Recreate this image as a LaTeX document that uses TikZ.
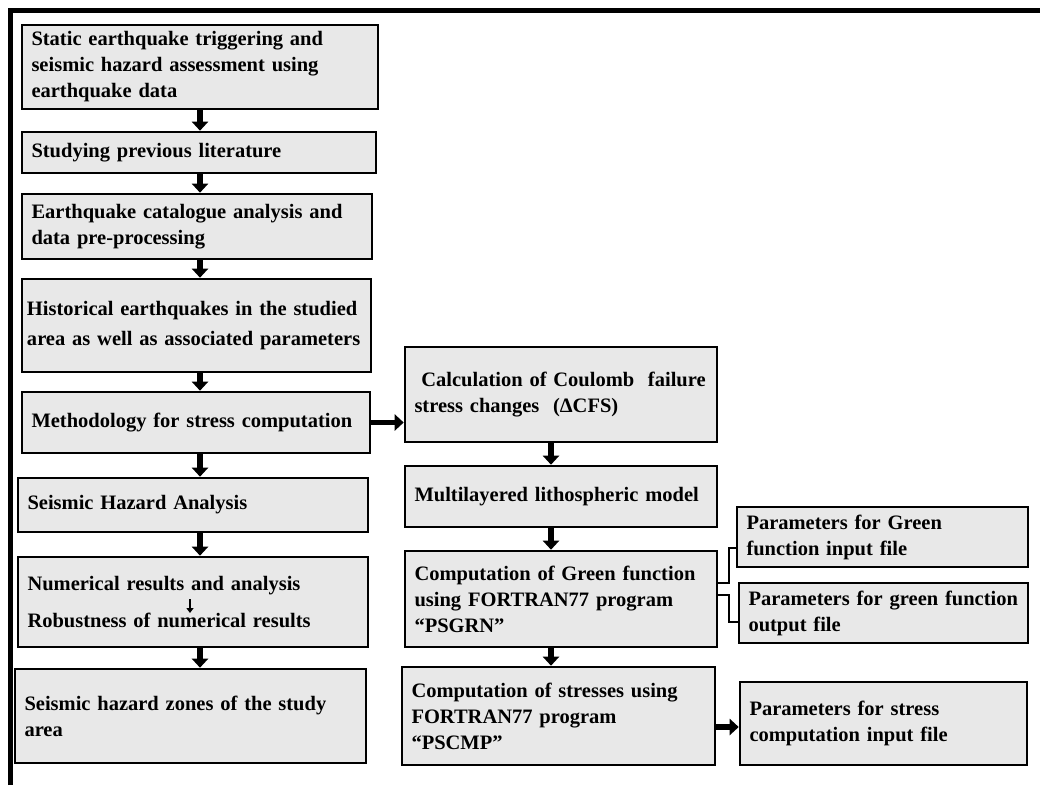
\documentclass[tikz,border=0pt]{standalone}
\usepackage{fontspec}
\setmainfont{Liberation Serif}
\usetikzlibrary{arrows.meta}
\definecolor{boxgray}{RGB}{232,232,232}

\begin{document}
\begin{tikzpicture}[x=1pt,y=-1pt,
  stepbox/.style={draw, line width=2.6pt, fill=boxgray, inner xsep=9.5pt, inner ysep=0pt,
    align=left, font=\fontsize{20.5}{26}\selectfont\bfseries},
  flowarrow/.style={line width=5.5pt, -{Triangle[length=9pt,width=16pt]}},
  linkline/.style={line width=2.2pt}]

\useasboundingbox (0,0) rectangle (1040,785);
\draw [line width=5pt](10,785) -- (10,10) -- (1040,10);

\coordinate (laxis) at (200,0);
\coordinate (raxis) at (551,0);

% left column
\node [stepbox, minimum width=356, minimum height=84, text width=337pt] (trig) at (200,67)
  {Static earthquake triggering and\\seismic hazard assessment using\\earthquake data};
\node [stepbox, minimum width=354, minimum height=41, text width=335pt] (lit) at (199,152.5)
  {Studying previous literature};
\node [stepbox, minimum width=350, minimum height=65, text width=331pt] (cat) at (197,226.5)
  {Earthquake catalogue analysis and\\data pre-processing};
\node [stepbox, minimum width=349, minimum height=93, inner xsep=5pt, text width=339pt,
  font=\fontsize{20.5}{30}\selectfont\bfseries] (hist) at (196.5,325.5)
  {Historical earthquakes in the studied\\area as well as associated parameters};
\node [stepbox, minimum width=348, minimum height=61, text width=329pt] (meth) at (196,422.5)
  {Methodology for stress computation};
\node [stepbox, minimum width=350, minimum height=54, text width=331pt] (sha) at (193,505)
  {Seismic Hazard Analysis};
\node [stepbox, minimum width=350, minimum height=90, text width=331pt] (num) at (193,602)
  {Numerical results and analysis\\[11pt]Robustness of numerical results};
\node [stepbox, minimum width=351, minimum height=94, text width=332pt] (zones) at (190.5,716)
  {Seismic hazard zones of the study\\area};

% right column
\node [stepbox, minimum width=312, minimum height=95, text width=293pt] (cfs) at (561,394.5)
  {\ Calculation of Coulomb\ \ failure\\stress changes\ \ (ΔCFS)};
\node [stepbox, minimum width=312, minimum height=61, text width=293pt] (litho) at (561,496.5)
  {Multilayered lithospheric model};
\node [stepbox, minimum width=312, minimum height=96, text width=293pt] (grn) at (561,599)
  {Computation of Green function\\using FORTRAN77 program\\“PSGRN”};
\node [stepbox, minimum width=313, minimum height=98, text width=294pt] (cmp) at (558.5,716)
  {Computation of stresses using\\FORTRAN77 program\\“PSCMP”};

% parameter files
\node [stepbox, minimum width=291, minimum height=60, text width=272pt] (grnin) at (882.5,537)
  {Parameters for Green\\function input file};
\node [stepbox, minimum width=289, minimum height=60, text width=270pt] (grnout) at (883.5,613)
  {Parameters for green function\\output file};
\node [stepbox, minimum width=287, minimum height=83, text width=268pt] (cmpin) at (883.5,723.5)
  {Parameters for stress\\computation input file};

\draw [flowarrow](trig.south -| laxis) -- (lit.north -| laxis);
\draw [flowarrow](lit.south -| laxis) -- (cat.north -| laxis);
\draw [flowarrow](cat.south -| laxis) -- (hist.north -| laxis);
\draw [flowarrow](hist.south -| laxis) -- (meth.north -| laxis);
\draw [flowarrow](meth.south -| laxis) -- (sha.north -| laxis);
\draw [flowarrow](sha.south -| laxis) -- (num.north -| laxis);
\draw [flowarrow](num.south -| laxis) -- (zones.north -| laxis);
\draw [line width=1.6pt, -{Triangle[length=5pt,width=7pt]}](190,599) -- (190,613);

\draw [flowarrow](meth.east) -- (meth.east -| cfs.west);
\draw [flowarrow](cfs.south -| raxis) -- (litho.north -| raxis);
\draw [flowarrow](litho.south -| raxis) -- (grn.north -| raxis);
\draw [flowarrow](grn.south -| raxis) -- (cmp.north -| raxis);
\draw [flowarrow]([yshift=-11pt]cmp.east) -- ([yshift=-11pt]cmp.east -| cmpin.west);

\draw [linkline]([yshift=16pt]grn.east) -- ++(11,0) |- ([yshift=-11pt]grnin.west);
\draw [linkline]([yshift=4pt]grn.east) -- ++(11,0) |- ([yshift=-9pt]grnout.west);
\end{tikzpicture}
\end{document}
